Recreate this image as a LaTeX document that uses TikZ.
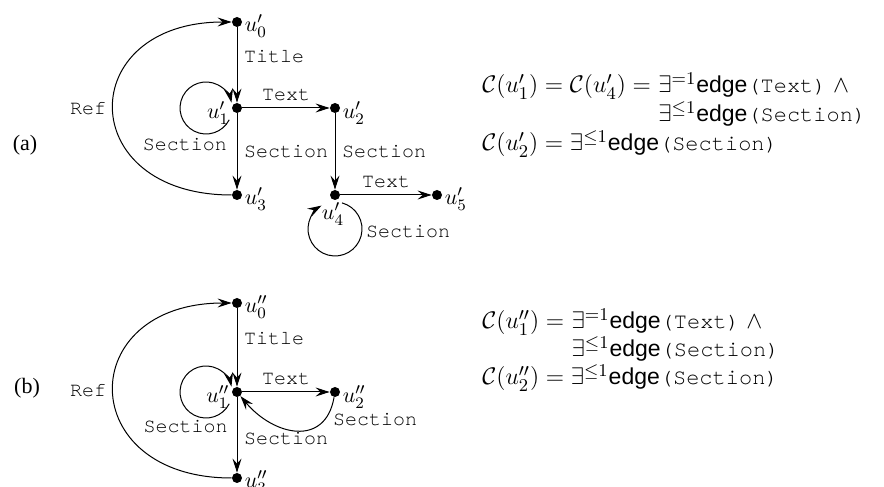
\documentclass[tikz,border=0pt]{standalone}
\usepackage{fontspec}
\setmainfont{Liberation Serif}
\setsansfont{Liberation Sans}
\setmonofont{TeX Gyre Cursor}
\usetikzlibrary{arrows.meta}
\newcommand{\edgesf}{{\fontsize{11.5}{14}\selectfont\sffamily edge}}
\newcommand{\mytt}[1]{{\fontsize{11}{14}\selectfont\ttfamily #1}}
\begin{document}
\begin{tikzpicture}[x=0.5pt,y=0.5pt,
  dot/.style={circle,fill,inner sep=0pt,minimum size=5pt},
  arr/.style={-{Stealth[length=7pt,width=4.5pt,inset=2.5pt]},line width=0.5pt},
  lbl/.style={font=\fontsize{10}{12}\selectfont\ttfamily},
  vlab/.style={inner sep=1pt,font=\fontsize{11}{13}\selectfont},
  form/.style={inner sep=0pt,anchor=base west,font=\fontsize{13}{15}\selectfont},
  panel/.style={font=\fontsize{11}{13}\selectfont},
]
\useasboundingbox (0,0) rectangle (884,487);

% ---------- (a) ----------
\node[panel] (la) at (25,342) {(a)};
\node[dot,label={[vlab,yshift=-2pt]right:$u'_0$}] (u0a) at (237,465) {};
\node[dot,label={[vlab,yshift=-2.5pt]left:$u'_1$}] (u1a) at (237,379) {};
\node[dot,label={[vlab,yshift=-2.5pt]right:$u'_2$}] (u2a) at (335,379) {};
\node[dot,label={[vlab,yshift=-2pt]right:$u'_3$}] (u3a) at (237,292) {};
\node[dot,label={[vlab,xshift=-1pt]below:$u'_4$}] (u4a) at (335,292) {};
\node[dot,label={[vlab,yshift=-2pt]right:$u'_5$}] (u5a) at (437,292) {};

\draw[arr] (u0a) -- node[lbl,right,pos=0.39] {Title} (u1a);
\draw[arr] (u1a) -- node[lbl,above] {Text} (u2a);
\draw[arr] (u1a) -- node[lbl,right] {Section} (u3a);
\draw[arr] (u2a) -- node[lbl,right] {Section} (u4a);
\draw[arr] (u4a) -- node[lbl,above] {Text} (u5a);
\draw[arr] (u3a) .. controls +(-163,0) and +(-163,0) .. node[lbl,left] {Ref} (u0a);
\draw[arr] ([shift={(-7.8,-11.8)}]u1a.center) arc[start angle=-27,end angle=-348,radius=26];
\node[lbl,anchor=east] (sla) at ([shift={(-3,-37)}]u1a) {Section};
\draw[arr] ([shift={(7,-7.9)}]u4a.center) arc[start angle=75,end angle=-240,radius=27];
\node[lbl,anchor=west] (slb) at ([shift={(24,-37)}]u4a) {Section};

\node[form] (fa1) at (482,394) {$\mathcal{C}(u'_1) = \mathcal{C}(u'_4) ={}$};
\node[form] (fa1r) at (fa1.base east) {$\exists^{=1}$\edgesf\mytt{(Text)} $\wedge$};
\node[form] (fa2) at ([yshift=-14.5pt]fa1r.base west) {$\exists^{\leq 1}$\edgesf\mytt{(Section)}};
\node[form] (fa3) at (482,336) {$\mathcal{C}(u'_2) = \exists^{\leq 1}$\edgesf\mytt{(Section)}};

% ---------- (b) ----------
\node[panel] (lb) at (27,99) {(b)};
\node[dot,label={[vlab,yshift=-2pt]right:$u''_0$}] (u0b) at (237,184) {};
\node[dot,label={[vlab,yshift=-2.5pt]left:$u''_1$}] (u1b) at (237,95) {};
\node[dot,label={[vlab,yshift=-2.5pt]right:$u''_2$}] (u2b) at (335,95) {};
\node[dot,label={[vlab,yshift=-2pt]right:$u''_3$}] (u3b) at (237,9) {};

\draw[arr] (u0b) -- node[lbl,right,pos=0.38] {Title} (u1b);
\draw[arr] (u1b) -- node[lbl,above] {Text} (u2b);
\draw[arr] (u1b) -- node[lbl,right,pos=0.55] {Section} (u3b);
\draw[arr] (u2b) to[out=-100,in=-50,looseness=1.4] (u1b);
\node[lbl] (slc) at ([shift={(40,-28)}]u2b) {Section};
\draw[arr] (u3b) .. controls +(-163,0) and +(-163,0) .. node[lbl,left] {Ref} (u0b);
\draw[arr] ([shift={(-7.8,-11.8)}]u1b.center) arc[start angle=-27,end angle=-348,radius=26];
\node[lbl,anchor=east] (sld) at ([shift={(-2.3,-35)}]u1b) {Section};

\node[form] (fb1) at (482,158) {$\mathcal{C}(u''_1) ={}$};
\node[form] (fb1r) at (fb1.base east) {$\exists^{=1}$\edgesf\mytt{(Text)} $\wedge$};
\node[form] (fb2) at ([yshift=-14pt]fb1r.base west) {$\exists^{\leq 1}$\edgesf\mytt{(Section)}};
\node[form] (fb3) at (482,102) {$\mathcal{C}(u''_2) = \exists^{\leq 1}$\edgesf\mytt{(Section)}};
\end{tikzpicture}
\end{document}
